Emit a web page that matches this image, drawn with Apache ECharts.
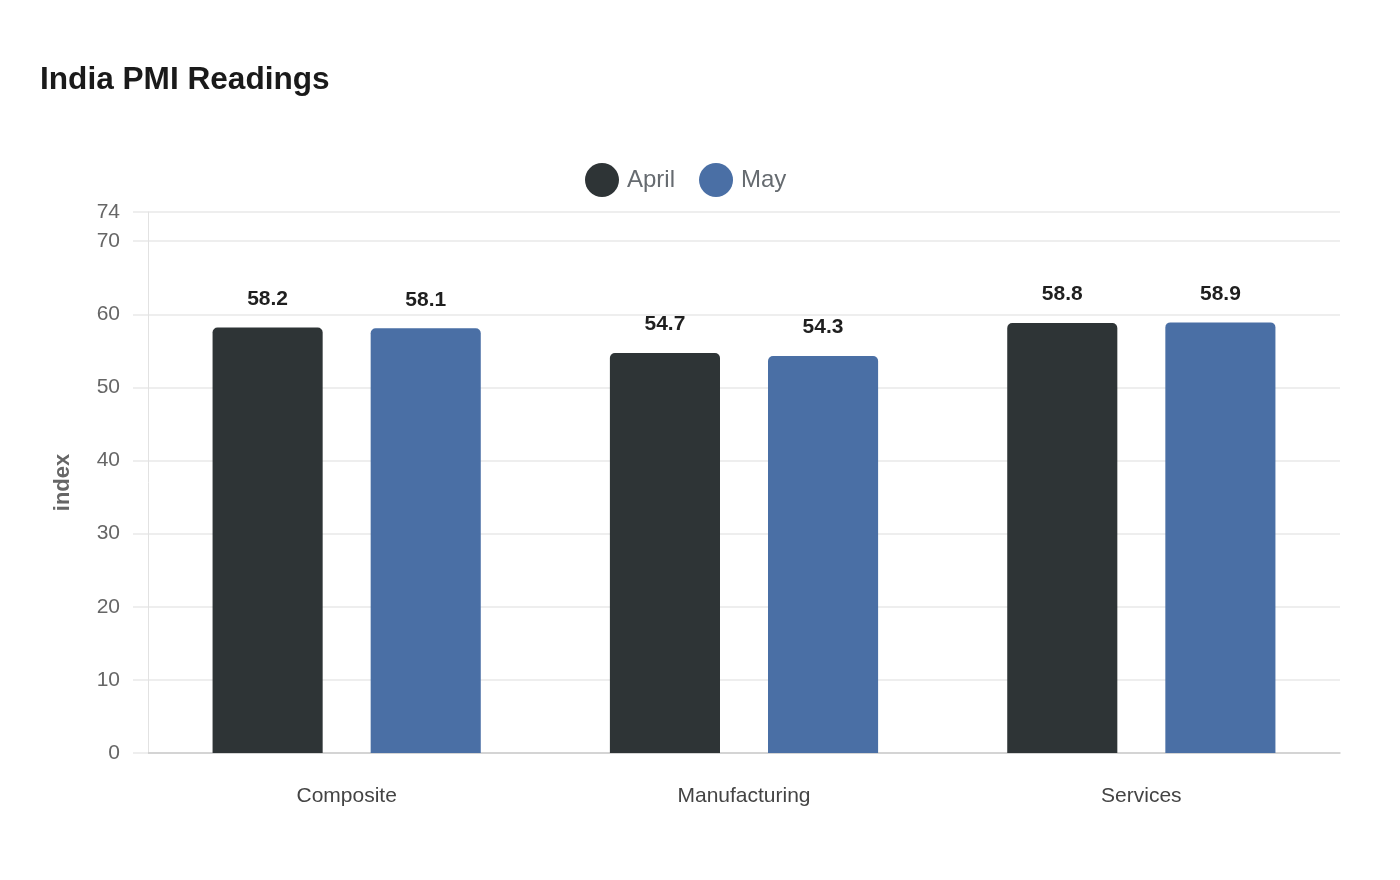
<!DOCTYPE html>
<html>
<head>
<meta charset="utf-8">
<title>India PMI Readings</title>
<script src="https://cdn.jsdelivr.net/npm/echarts@6/dist/echarts.min.js"></script>
<style>
  html, body { margin: 0; padding: 0; background: #fff; }
  #chart { width: 1400px; height: 880px; }
</style>
</head>
<body>
<div id="chart"></div>
<script>
var categories = ['Composite', 'Manufacturing', 'Services'];
var aprilValues = [58.2, 54.7, 58.8];
var mayValues = [58.1, 54.3, 58.9];
var seriesNames = ['April', 'May'];

var FONT = '"Liberation Sans", Arial, sans-serif';
var chart = echarts.init(document.getElementById('chart'));

var labelStyle = {
    show: true,
    position: 'top',
    distance: 18,
    color: '#1f1f1f',
    fontWeight: 'bold',
    fontSize: 21,
    fontFamily: FONT
};

var option = {
    backgroundColor: '#ffffff',
    textStyle: { fontFamily: FONT },
    title: {
        text: 'India PMI Readings',
        left: 35,
        top: 59,
        textStyle: { fontSize: 31.6, fontWeight: 'bold', color: '#1a1a1a', fontFamily: FONT }
    },
    legend: {
        data: seriesNames,
        top: 158,
        left: 580,
        icon: 'circle',
        itemWidth: 34,
        itemHeight: 34,
        itemGap: 24,
        textStyle: { fontSize: 24, color: '#666b70', fontFamily: FONT, padding: [0, 0, 0, 3] }
    },
    grid: {
        left: 148,
        right: 60,
        top: 212,
        bottom: 127
    },
    xAxis: {
        type: 'category',
        data: categories,
        axisLine: { lineStyle: { color: '#cccccc', width: 1.5 } },
        axisTick: { show: false },
        axisLabel: { fontSize: 21, color: '#444444', margin: 33, fontFamily: FONT }
    },
    yAxis: {
        type: 'value',
        min: 0,
        max: 74,
        interval: 10,
        name: 'index',
        nameLocation: 'middle',
        nameGap: 74,
        nameTextStyle: { fontSize: 22, fontWeight: 'bold', color: '#666666', fontFamily: FONT },
        axisLine: { show: true, lineStyle: { color: '#e2e2e2', width: 1 } },
        axisTick: { show: true, length: 15, lineStyle: { color: '#eeeeee', width: 2 } },
        axisLabel: { fontSize: 21, color: '#666666', margin: 28, fontFamily: FONT },
        splitLine: { lineStyle: { color: '#eeeeee', width: 2 } }
    },
    series: [
        {
            name: seriesNames[0],
            type: 'bar',
            data: aprilValues,
            barCategoryGap: '32.5%',
            barGap: '43.6%',
            itemStyle: { color: '#2e3436', borderRadius: [5, 5, 0, 0] },
            label: labelStyle
        },
        {
            name: seriesNames[1],
            type: 'bar',
            data: mayValues,
            barCategoryGap: '32.5%',
            barGap: '43.6%',
            itemStyle: { color: '#4a6fa5', borderRadius: [5, 5, 0, 0] },
            label: labelStyle
        }
    ]
};

chart.setOption(option);
</script>
</body>
</html>
